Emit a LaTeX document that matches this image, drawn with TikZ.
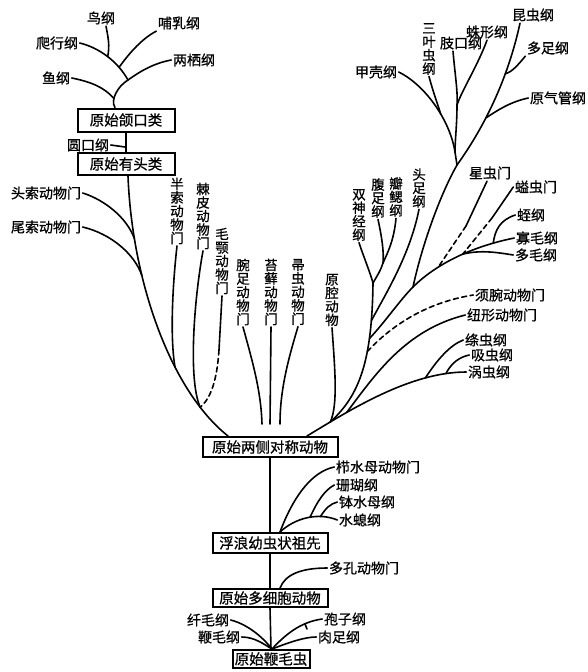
\documentclass[tikz,border=0pt]{standalone}
\usepackage{fontspec}
\newfontfamily\cjk[RawFeature={embolden=0.8}]{Noto Sans CJK SC}
\begin{document}
\begin{tikzpicture}[x=1pt,y=-1pt,
  br/.style={line width=1.6pt,line cap=round},
  dsh/.style={br,dash pattern=on 5pt off 3.5pt},
  lbl/.style={font=\cjk\fontsize{14}{14}\selectfont,inner sep=1.5pt},
  vl/.style={font=\cjk\fontsize{13.5}{13.5}\selectfont,align=center,inner sep=1.5pt},
  box/.style={draw,line width=2pt,fill=white,font=\cjk\fontsize{14.5}{14.5}\selectfont,inner sep=0pt}]
\useasboundingbox (0,0) rectangle (588,672);
% horizontal labels
\node[lbl] (niao) at (101,18) {鸟纲};
\node[lbl] (buru) at (179,23) {哺乳纲};
\node[lbl] (paxing) at (57,43) {爬行纲};
\node[lbl] (liangqi) at (194,60) {两栖纲};
\node[lbl] (yu) at (56,78) {鱼纲};
\node[lbl] (yuankou) at (88,145) {圆口纲};
\node[lbl] (toushuo) at (46,193) {头索动物门};
\node[lbl] (weishuo) at (46,227) {尾索动物门};
\node[lbl] (jiaqiao) at (376,72) {甲壳纲};
\node[lbl] (zhikou) at (461,43) {肢口纲};
\node[lbl] (zhuxing) at (487,32) {蛛形纲};
\node[lbl] (kunchong) at (533,15) {昆虫纲};
\node[lbl] (duozu) at (548,48) {多足纲};
\node[lbl] (yuanqi) at (558,98) {原气管纲};
\node[lbl] (xingchong) at (490,173) {星虫门};
\node[lbl] (yichong) at (536,187) {螠虫门};
\node[lbl] (zhi) at (531,215) {蛭纲};
\node[lbl] (guamao) at (537,238) {寡毛纲};
\node[lbl] (duomao) at (536,255) {多毛纲};
\node[lbl] (xuwan) at (510,295) {须腕动物门};
\node[lbl] (niuxing) at (502,315) {纽形动物门};
\node[lbl] (taochong) at (486,340) {绦虫纲};
\node[lbl] (xichong) at (492,355) {吸虫纲};
\node[lbl] (wochong) at (489,372) {涡虫纲};
\node[lbl] (zhishui) at (378,467) {栉水母动物门};
\node[lbl] (shanhu) at (357,485) {珊瑚纲};
\node[lbl] (boshui) at (367,502) {钵水母纲};
\node[lbl] (shuixi) at (360,520) {水螅纲};
\node[lbl] (duokong) at (364,568) {多孔动物门};
\node[lbl] (xianmao) at (208,620) {纤毛纲};
\node[lbl] (bianmao) at (219,637) {鞭毛纲};
\node[lbl] (baozi) at (345,619) {孢子纲};
\node[lbl] (rouzu) at (339,637) {肉足纲};
% vertical labels
\node[vl] (sanye) at (429,49) {三\\叶\\虫\\纲};
\node[vl] (banshuo) at (177,211) {半\\索\\动\\物\\门};
\node[vl] (jipi) at (203,216) {棘\\皮\\动\\物\\门};
\node[vl] (maoe) at (222,261) {毛\\颚\\动\\物\\门};
\node[vl] (wanzu) at (243,292) {腕\\足\\动\\物\\门};
\node[vl] (taixian) at (271,292) {苔\\藓\\动\\物\\门};
\node[vl] (zhouchong) at (298,292) {帚\\虫\\动\\物\\门};
\node[vl] (yuanqiang) at (332,300) {原\\腔\\动\\物};
\node[vl] (shuangshen) at (359,215) {双\\神\\经\\纲};
\node[vl] (fuzu) at (378,198) {腹\\足\\纲};
\node[vl] (banzai) at (396,197) {瓣\\鳃\\纲};
\node[vl] (touzu) at (419,188) {头\\足\\纲};
% boxes
\node[box,minimum width=97pt,minimum height=23pt] (b1) at (126,120) {原始颌口类};
\node[box,minimum width=97pt,minimum height=22pt] (b2) at (126,164) {原始有头类};
\node[box,minimum width=135pt,minimum height=20pt] (b3) at (270,447) {原始两侧对称动物};
\node[box,minimum width=115pt,minimum height=20pt] (b4) at (270,543) {浮浪幼虫状祖先};
\node[box,minimum width=115pt,minimum height=18pt] (b5) at (270,598) {原始多细胞动物};
\node[box,minimum width=77pt,minimum height=18pt] (b6) at (271,659) {原始鞭毛虫};
% box chain
\draw[br] (b1.south) -- (b2.north) coordinate[pos=.75] (yk);
\draw[br] (yuankou.east) .. controls (118,146) .. (yk);
\draw[br] (b3.south) -- (b4.north);
\draw[br] (b4.south) -- (b5.north);
\draw[br] (b5.south) -- (b6.north);
% vertebrates
\coordinate (b1t) at ([xshift=-11pt]b1.north);
\coordinate (v1) at (128,80);
\draw[br] (b1t) .. controls (110,100) and (118,86) .. (v1) coordinate[pos=.33] (v4);
\draw[br] (v1) .. controls (118,62) and (100,48) .. (paxing.east) coordinate[pos=.25] (v2) coordinate[pos=.5] (v3);
\draw[br] (v2) .. controls (130,52) and (143,38) .. (buru.south west);
\draw[br] (v3) .. controls (110,45) and (108,37) .. ([xshift=5pt]niao.south);
\draw[br] (v1) .. controls (142,70) and (155,63) .. (liangqi.west);
\draw[br] (yu.east) .. controls (92,82) and (105,88) .. (v4);
% left trunk
\coordinate (b2b) at ([xshift=2pt]b2.south);
\coordinate (b3l) at ([xshift=-42pt]b3.north);
\draw[br] (b2b) .. controls (132,280) and (170,390) .. (b3l) coordinate[pos=.2] (jt1) coordinate[pos=.32] (jt2) coordinate[pos=.65] (jt3) coordinate[pos=.83] (jt4);
\draw[br] (toushuo.east) .. controls (105,200) and (127,218) .. (jt1);
\draw[br] (weishuo.east) .. controls (112,234) and (135,255) .. (jt2);
\draw[br] (banshuo.south) .. controls (171,300) and (171,345) .. (jt3);
\draw[br] (jipi.south) .. controls (194,300) and (188,380) .. (jt4);
\coordinate (me1) at (219,350);
\draw[br] (maoe.south) -- (me1);
\draw[dsh] (me1) .. controls (217,380) and (211,398) .. (jt4);
% middle
\coordinate (wz) at (262,424);
\coordinate (tx) at (270,424);
\coordinate (zc) at (280,424);
\draw[br] (wanzu.south) .. controls (252,360) and (261,390) .. (wz);
\draw[br] (taixian.south) -- (tx);
\draw[br] (zhouchong.south) .. controls (288,360) and (280,390) .. (zc);
% right trunk
\coordinate (b3r) at ([xshift=37pt]b3.north);
\draw[br] (b3r) .. controls (350,410) and (410,372) .. (wochong.west) coordinate[pos=.17] (jr1) coordinate[pos=.28] (jn) coordinate[pos=.76] (jf1) coordinate[pos=.88] (jf2);
\draw[br] (yuanqiang.south) .. controls (335,370) and (338,405) .. (jr1);
\draw[br] (jf1) .. controls (437,360) and (450,345) .. (taochong.west);
\draw[br] (jf2) .. controls (452,362) and (460,357) .. (xichong.west);
\draw[br] (jn) .. controls (375,375) and (405,330) .. (niuxing.west);
\coordinate (mj1) at (373,283);
\draw[br] (jr1) .. controls (360,395) and (372,360) .. (mj1) coordinate[pos=.64] (jx) coordinate[pos=.72] (ja) coordinate[pos=.82] (jh);
\draw[dsh] (jx) .. controls (395,322) and (430,302) .. (xuwan.west);
\coordinate (ja2) at (413,287);
\draw[br] (ja) .. controls (385,322) and (400,300) .. (ja2);
\coordinate (ar0) at (457,165);
\draw[br] (ja2) .. controls (422,245) and (440,195) .. (ar0);
\draw[br] (ja2) .. controls (432,268) and (465,248) .. (guamao.west) coordinate[pos=.35] (jxc) coordinate[pos=.6] (jm) coordinate[pos=.85] (jz);
\draw[br] (jm) .. controls (480,250) and (495,252) .. (duomao.west);
\draw[br] (jz) .. controls (495,230) and (500,220) .. (zhi.west);
\coordinate (xs1) at (466,226);
\draw[br] ([xshift=-3pt]xingchong.south) -- (xs1);
\draw[dsh] (xs1) -- (jxc);
\coordinate (ys1) at (492,218);
\draw[br] (yichong.west) -- (ys1);
\draw[dsh] (ys1) -- (jm);
% molluscs
\coordinate (mj2) at (383,263);
\draw[br] (shuangshen.south) .. controls (364,258) and (370,272) .. (mj1);
\draw[br] (mj1) .. controls (377,276) and (381,270) .. (mj2);
\draw[br] (fuzu.south) .. controls (382,238) and (384,252) .. (mj2);
\draw[br] (banzai.south) .. controls (394,240) and (388,252) .. (mj2);
\draw[br] (touzu.south) .. controls (410,255) and (385,295) .. (jh);
% arthropods
\coordinate (ar1) at (455,152);
\coordinate (ar2) at (457,105);
\draw[br] (ar1) -- (ar0);
\draw[br] (jiaqiao.east) .. controls (425,85) and (450,120) .. (ar1) coordinate[pos=.6] (ar3);
\draw[br] (sanye.south) .. controls (434,95) and (438,105) .. (ar3);
\draw[br] ([xshift=-8pt]zhikou.south) .. controls (455,75) and (458,92) .. (ar2);
\draw[br] (zhuxing.south) .. controls (478,65) and (462,90) .. (ar2);
\draw[br] (ar2) .. controls (457,125) and (455,140) .. (ar1);
\draw[br] ([xshift=-13pt]kunchong.south) .. controls (512,60) and (495,112) .. (ar0) coordinate[pos=.4] (jd) coordinate[pos=.7] (jq);
\draw[br] (duozu.south west) .. controls (518,65) and (512,72) .. (jd);
\draw[br] (yuanqi.west) .. controls (510,102) and (498,110) .. (jq);
% cnidaria
\coordinate (cn0) at ([xshift=10pt]b4.north);
\draw[br] (cn0) .. controls (292,500) and (310,472) .. (zhishui.west);
\draw[br] (cn0) .. controls (295,518) and (318,512) .. (shuixi.west) coordinate[pos=.55] (jsh) coordinate[pos=.72] (jbo);
\draw[br] (jsh) .. controls (318,500) and (325,490) .. (shanhu.west);
\draw[br] (jbo) .. controls (326,508) and (330,504) .. (boshui.west);
% porifera
\coordinate (pk) at ([xshift=10pt]b5.north);
\draw[br] (pk) .. controls (285,575) and (300,568) .. (duokong.west);
% protozoa
\coordinate (b6t) at ([xshift=1pt]b6.north);
\draw[br] (xianmao.east) .. controls (250,625) and (265,640) .. (b6t);
\draw[br] (bianmao.east) .. controls (255,637) and (265,645) .. (b6t);
\draw[br] (b6t) .. controls (285,635) and (300,622) .. (baozi.west);
\draw[br] (b6t) .. controls (290,642) and (305,637) .. (rouzu.west);
\coordinate (dk1) at (305,624);
\coordinate (dk2) at (307,629);
\draw[br] (dk1) -- (dk2);
\end{tikzpicture}
\end{document}
